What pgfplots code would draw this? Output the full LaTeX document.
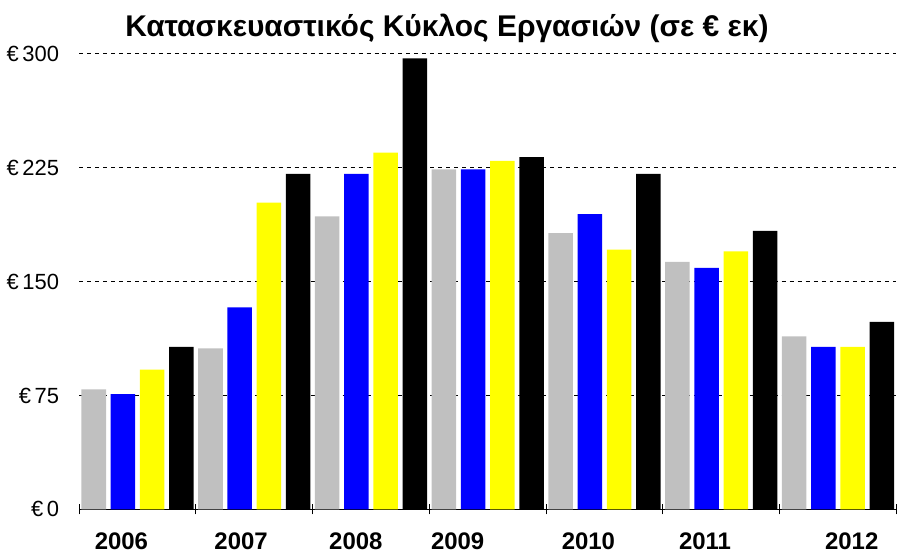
\documentclass[border=0pt]{standalone}
\usepackage{fontspec}
\setmainfont{Liberation Sans}
\usepackage{pgfplots}
\pgfplotsset{compat=1.18}
\definecolor{qgrey}{RGB}{192,192,192}
\definecolor{qblue}{RGB}{0,0,255}
\definecolor{qyellow}{RGB}{255,255,0}
\begin{document}
\begin{tikzpicture}
\begin{axis}[
  width=409.5pt, height=228.3pt, scale only axis,
  xmin=-0.5, xmax=6.5, ymin=0, ymax=300,
  axis lines=left, axis line style={-},
  y axis line style={draw=none},
  ybar, bar width=0.21,
  ytick={0,75,150,225,300},
  yticklabels={€\,0,€\,75,€\,150,€\,225,€\,300},
  ytick style={draw=none},
  yticklabel style={font=\fontsize{11}{13}\selectfont, xshift=-4pt},
  ymajorgrids, grid style={black, dash pattern=on 2pt off 2pt, line width=0.5pt},
  xtick={-0.5,0.5,...,6.5}, xticklabels={},
  xtick style={black, line width=0.5pt},
  tick align=center, major tick length=5pt,
  extra x ticks={-0.138,0.887,1.870,2.742,3.862,4.861,6.118},
  extra x tick labels={2006,2007,2008,2009,2010,2011,2012},
  extra x tick style={major tick length=0pt, xticklabel style={font=\fontsize{12}{14}\selectfont\bfseries, yshift=-8pt}},
  title={Κατασκευαστικός Κύκλος Εργασιών (σε € εκ)},
  title style={font=\fontsize{15}{18}\selectfont\bfseries, at={(axis description cs:0.45,1)}, anchor=south, yshift=-4pt, text height=15pt},
  clip=false,
]
\addplot[fill=qgrey, draw=none, bar shift=-0.375] coordinates {(0,79) (1,106) (2,193) (3,224) (4,182) (5,163) (6,114)};
\addplot[fill=qblue, draw=none, bar shift=-0.125] coordinates {(0,76) (1,133) (2,221) (3,224) (4,194.5) (5,159) (6,107)};
\addplot[fill=qyellow, draw=none, bar shift=0.125] coordinates {(0,92) (1,202) (2,235) (3,229.5) (4,171) (5,170) (6,107)};
\addplot[fill=black, draw=none, bar shift=0.375] coordinates {(0,107) (1,221) (2,297) (3,232) (4,221) (5,183.5) (6,123.5)};
\end{axis}
\end{tikzpicture}
\end{document}
